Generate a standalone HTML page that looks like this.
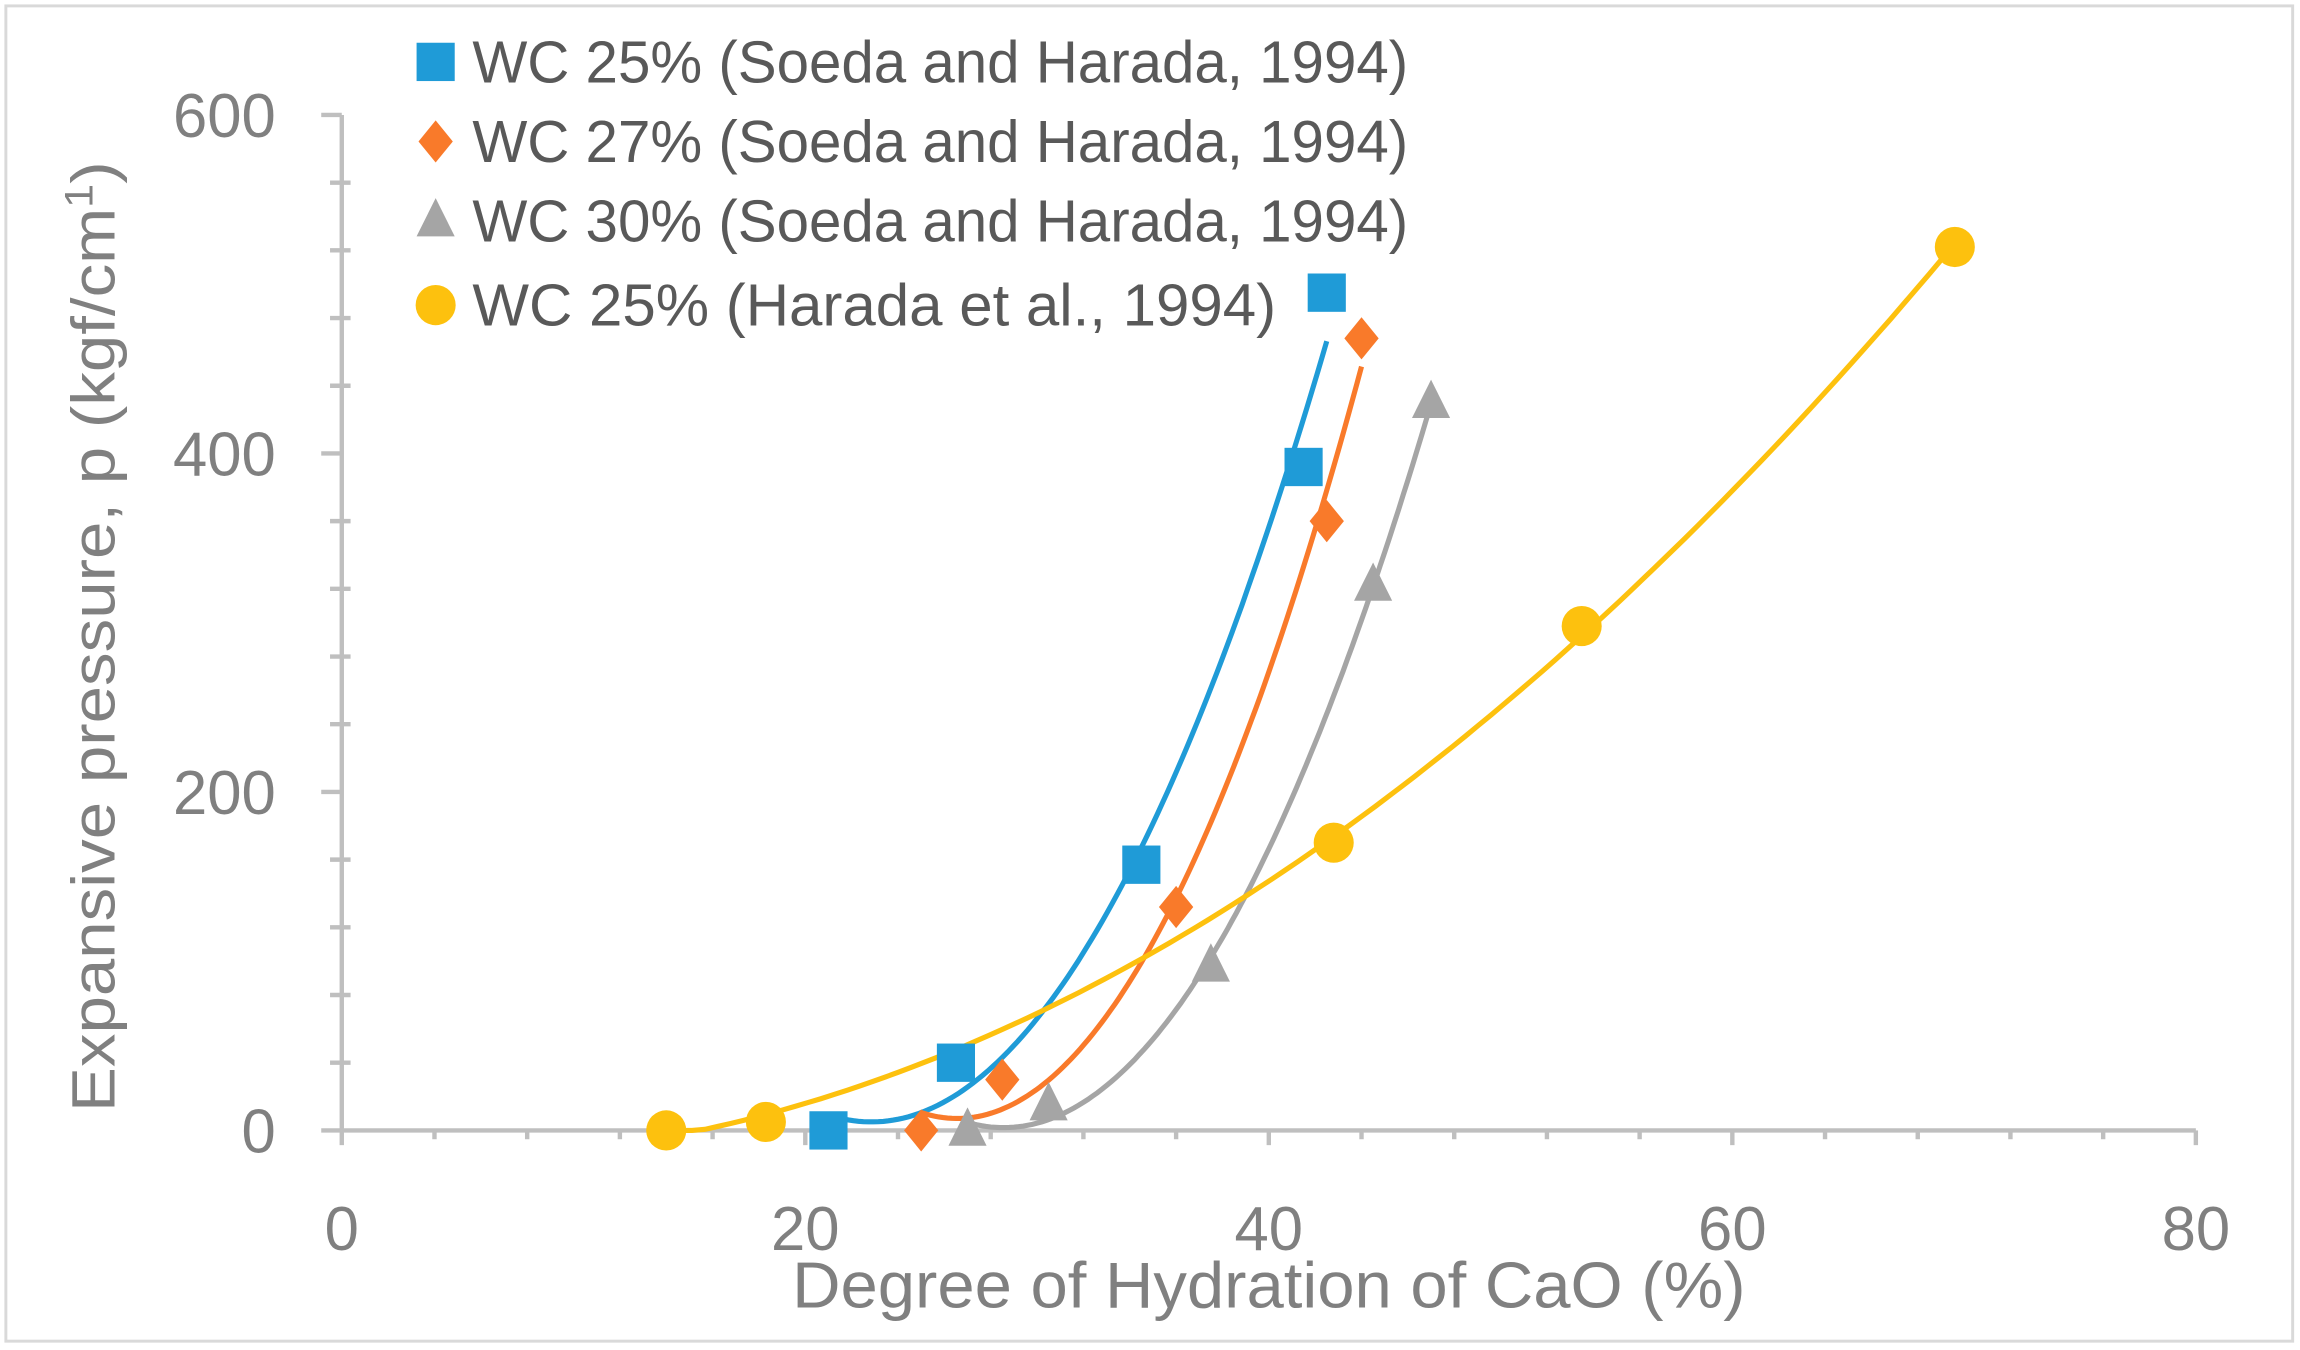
<!DOCTYPE html>
<html><head><meta charset="utf-8"><style>html,body{margin:0;padding:0;background:#fff}svg{display:block}text{font-family:"Liberation Sans",sans-serif}</style></head>
<body>
<svg id="chart" width="2300" height="1350" viewBox="0 0 1568 916" preserveAspectRatio="none" xmlns="http://www.w3.org/2000/svg">
<rect x="4" y="4" width="1559" height="906" fill="#fff" stroke="#d9d9d9" stroke-width="2"/>
<g id="axes"></g><g id="lines"></g><g id="marks"></g><g id="legend"></g>
<text transform="translate(78,432) rotate(-90)" text-anchor="middle" font-size="42" fill="#808080" textLength="645" lengthAdjust="spacingAndGlyphs">Expansive pressure, p (kgf/cm<tspan font-size="27" dy="-15">1</tspan><tspan dy="15">)</tspan></text>
<text x="540" y="887" font-size="44" fill="#808080" textLength="650" lengthAdjust="spacingAndGlyphs">Degree of Hydration of CaO (%)</text>
</svg>
<script>
const xTicks=[0,20,40,60,80];
const yTicks=[0,200,400,600];
const seriesNames=["WC 25% (Soeda and Harada, 1994)","WC 27% (Soeda and Harada, 1994)","WC 30% (Soeda and Harada, 1994)","WC 25%  (Harada et al., 1994)"];
const blueX=[21,26.5,34.5,41.5,42.5];
const blueY=[0,40,157,392,495];
const orangeX=[25,28.5,36,42.5,44];
const orangeY=[0,30,132,360,468];
const grayX=[27,30.5,37.5,44.5,47];
const grayY=[0,15,97,322,430];
const yellowX=[14,18.3,42.8,53.5,69.6];
const yellowY=[0,5,170,298,522];
const NS="http://www.w3.org/2000/svg";
const X=v=>233+v*15.8, Y=v=>767-v*(689/600);
function mk(t,a,p){const e=document.createElementNS(NS,t);for(const k in a)e.setAttribute(k,a[k]);p.appendChild(e);return e;}
const axes=document.getElementById('axes');
const ax=mk('line',{x1:X(0),y1:Y(0),x2:X(80),y2:Y(0),stroke:'#bfbfbf','stroke-width':3},axes);


const ay=mk('line',{x1:X(0),y1:Y(0),x2:X(0),y2:Y(600),stroke:'#bfbfbf','stroke-width':3},axes);


for(let v=0;v<=80;v+=4){const l=mk('line',{x1:X(v),x2:X(v),y1:Y(0),y2:Y(0)+(v%20===0?10:6)*1,stroke:'#bfbfbf','stroke-width':3},axes);

}
for(let v=0;v<=600;v+=40){const l=mk('line',{x1:X(0)-(v%200===0?14:8),x2:X(0)+(v%200===0?0:6),y1:Y(v),y2:Y(v),stroke:'#bfbfbf','stroke-width':3},axes);

}
xTicks.forEach(v=>{const t=mk('text',{x:X(v),y:848,'text-anchor':'middle','font-size':42,fill:'#808080'},axes);t.textContent=v;

});
yTicks.forEach(v=>{const t=mk('text',{x:188,y:Y(v)+15,'text-anchor':'end','font-size':42,fill:'#808080'},axes);t.textContent=v;

});
function fit(xs,ys){let S=[0,0,0,0,0],T=[0,0,0];xs.forEach((x,i)=>{for(let k=0;k<5;k++)S[k]+=x**k;for(let k=0;k<3;k++)T[k]+=ys[i]*x**k;});
const A=[[S[0],S[1],S[2],T[0]],[S[1],S[2],S[3],T[1]],[S[2],S[3],S[4],T[2]]];
for(let i=0;i<3;i++){for(let j=i+1;j<3;j++){const f=A[j][i]/A[i][i];for(let k=i;k<4;k++)A[j][k]-=f*A[i][k];}}
const c=[0,0,0];for(let i=2;i>=0;i--){let s=A[i][3];for(let k=i+1;k<3;k++)s-=A[i][k]*c[k];c[i]=s/A[i][i];}return c;}
const series=[[blueX,blueY,'#1f9bd7','square'],[orangeX,orangeY,'#f97a2a','diamond'],[grayX,grayY,'#a5a5a5','triangle'],[yellowX,yellowY,'#fdc10e','circle']];
const lines=document.getElementById('lines'),marks=document.getElementById('marks'),leg=document.getElementById('legend');
const legLen=[638,638,638,548];
function marker(shape,cx,cy,col,g,s){
 if(shape==='square')return mk('rect',{x:cx-s,y:cy-s,width:2*s,height:2*s,fill:col},g);
 if(shape==='diamond')return mk('polygon',{points:`${cx},${cy-s*1.1} ${cx+s*0.9},${cy} ${cx},${cy+s*1.1} ${cx-s*0.9},${cy}`,fill:col},g);
 if(shape==='triangle')return mk('polygon',{points:`${cx},${cy-s*1.2} ${cx+s},${cy+s*0.8} ${cx-s},${cy+s*0.8}`,fill:col},g);
 return mk('ellipse',{cx:cx,cy:cy,rx:s*1.05,ry:s*1.05,fill:col},g);}
series.forEach(([xs,ys,col,sh],i)=>{
 const c=fit(xs,ys);let d='';const x0=Math.min(...xs),x1=Math.max(...xs);
 for(let k=0;k<=100;k++){const x=x0+(x1-x0)*k/100;const y=Math.max(0,c[0]+c[1]*x+c[2]*x*x);d+=(k?'L':'M')+X(x).toFixed(1)+','+Y(y).toFixed(1);}
 const p=mk('path',{d:d,fill:'none',stroke:col,'stroke-width':3.5},lines);
 
 
 xs.forEach((x,j)=>{const m=marker(sh,X(x),Y(ys[j]),col,marks,13);
 
 });
 const ly=[42,96,150,207][i];
 const lm=marker(sh,297,ly,col,leg,13);
 
 
 const t=mk('text',{x:322,y:ly+14,'font-size':40,fill:'#595959',textLength:legLen[i],lengthAdjust:'spacingAndGlyphs'},leg);t.textContent=seriesNames[i];
 
 
});
</script>
</body></html>
